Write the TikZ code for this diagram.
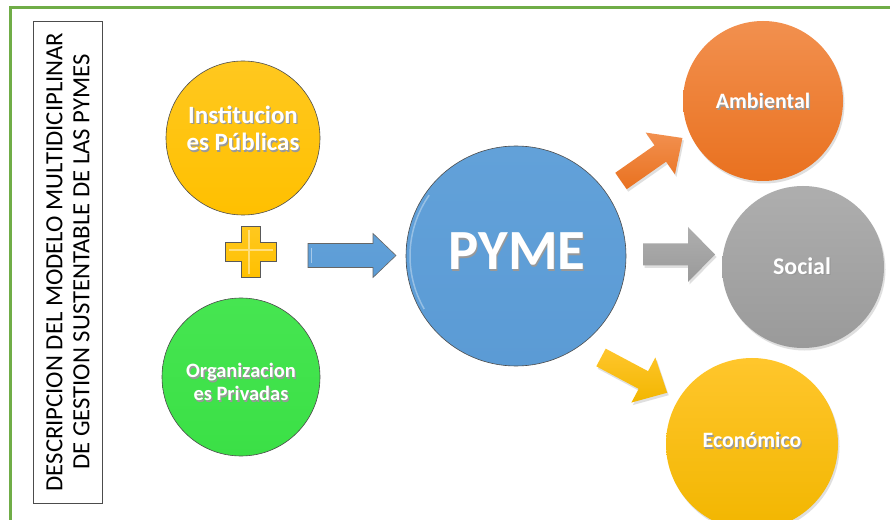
\documentclass[tikz,border=0pt]{standalone}
\usepackage{fontspec}
\setmainfont{Carlito}
\usetikzlibrary{shadows}
\definecolor{frameG}{HTML}{70AD47}
\definecolor{instY}{HTML}{FFC000}
\definecolor{instYl}{HTML}{FFC81F}
\definecolor{orgG}{HTML}{3BE046}
\definecolor{orgGl}{HTML}{46E551}
\definecolor{pymeB}{HTML}{5B9BD5}
\definecolor{pymeBl}{HTML}{62A1D9}
\definecolor{ambT}{HTML}{F2904F}
\definecolor{ambB}{HTML}{E9711F}
\definecolor{socT}{HTML}{AEAEAE}
\definecolor{socB}{HTML}{9A9A9A}
\definecolor{ecoT}{HTML}{FFC62C}
\definecolor{ecoB}{HTML}{F2B600}
\newcommand\shd[1]{\leavevmode\rlap{\kern1.3bp\raisebox{-1.3bp}{\textcolor{black!40}{#1}}}#1}
\tikzset{
  ball/.style={circle, inner sep=0pt, minimum size=#1},
  rim/.style={draw=black!70, line width=0.6bp},
  softshadow/.style={drop shadow={opacity=0.25, shadow xshift=1.5bp, shadow yshift=-2.5bp}},
  lbl/.style={text=white, font=\bfseries, align=center, inner sep=0pt},
  titlebox/.style={draw=black!70, line width=0.7bp},
  blockarrow/.style={line join=miter}
}
\begin{document}
\begin{tikzpicture}[x=1bp,y=-1bp]
\useasboundingbox (0,0) rectangle (890,520);
\fill[white] (0,0) rectangle (890,520);
\begin{scope}
\clip (0,0) rectangle (890,520);
\draw[frameG, line width=3bp] (10,8) rectangle (905,535);

% title box
\draw[titlebox] (33,21) rectangle (102,503);
\node[rotate=90, align=center, inner sep=0pt, font=\fontsize{24.8}{27}\selectfont] (title) at (68,262)
  {DESCRIPCION DEL MODELO MULTIDICIPLINAR\\DE GESTION SUSTENTABLE DE LAS PYMES};

% left circles
\node[ball=154bp, rim, top color=instYl, bottom color=instY] (inst) at (243,138) {};
\node[ball=158bp, rim, top color=orgGl, bottom color=orgG] (org) at (241,377) {};
\node[lbl, font=\bfseries\fontsize{25}{28}\selectfont] (instT) at (243,129) {\shd{Institucion}\\\shd{es Públicas}};
\node[lbl, font=\bfseries\fontsize{20.5}{23}\selectfont] (orgT) at (241,383) {\shd{Organizacion}\\\shd{es Privadas}};

% plus sign
\path[draw=black!65, line width=0.6bp, top color=instYl, bottom color=instY]
  (241.5,226.5) -- (260.5,226.5) -- (260.5,242.5) -- (276.5,242.5) -- (276.5,261.5) -- (260.5,261.5)
  -- (260.5,277.5) -- (241.5,277.5) -- (241.5,261.5) -- (225.5,261.5) -- (225.5,242.5) -- (241.5,242.5) -- cycle;
\draw[white, opacity=0.45, line width=1.2bp] (249,230) -- (249,274) (229,250) -- (273,250);

% blue arrow
\path[blockarrow, draw=black!60, line width=0.6bp, top color=pymeBl, bottom color=pymeB]
  (308,243.5) -- (373,243.5) -- (373,233.5) -- (396,255.5) -- (373,277.5) -- (373,267.5) -- (308,267.5) -- cycle;
\draw[white, opacity=0.45, line width=1bp] (311,248) -- (311,263);

% PYME
\node[ball=220bp, rim, top color=pymeBl, bottom color=pymeB] (pyme) at (516,256) {};
\draw[white, opacity=0.35, line width=1.5bp] (pyme.center) ++(150:106) arc[start angle=150, end angle=215, radius=106];
\node[lbl, font=\bfseries\fontsize{57}{60}\selectfont] (pymeT) at (517,252) {\shd{PYME}};

% right circles
\node[ball=160bp, softshadow, top color=ambT, bottom color=ambB] (amb) at (763,101) {};
\node[ball=162bp, softshadow, top color=socT, bottom color=socB] (soc) at (803,267) {};
\node[ball=172bp, softshadow, top color=ecoT, bottom color=ecoB] (eco) at (752,444) {};
\node[lbl, font=\bfseries\fontsize{22}{24}\selectfont] (ambT) at (763,102) {\shd{Ambiental}};
\node[lbl, font=\bfseries\fontsize{24}{26}\selectfont] (socT) at (802,267) {\shd{Social}};
\node[lbl, font=\bfseries\fontsize{22}{24}\selectfont] (ecoT) at (752,441) {\shd{Económico}};

% output arrows
\path[blockarrow, softshadow, top color=ambT, bottom color=ambB, shift={(621,181)}, rotate=35]
  (0,-10) -- (48,-10) -- (48,-25.5) -- (75,0) -- (48,25.5) -- (48,10) -- (0,10) -- cycle;
\path[blockarrow, softshadow, top color=socT, bottom color=socB]
  (643,243.5) -- (688,243.5) -- (688,227) -- (715,254.5) -- (688,282) -- (688,265.5) -- (643,265.5) -- cycle;
\path[blockarrow, softshadow, top color=ecoT, bottom color=ecoB, shift={(601,357.5)}, rotate=-28]
  (0,-10) -- (48,-10) -- (48,-25.5) -- (75,0) -- (48,25.5) -- (48,10) -- (0,10) -- cycle;
\end{scope}
\end{tikzpicture}
\end{document}
